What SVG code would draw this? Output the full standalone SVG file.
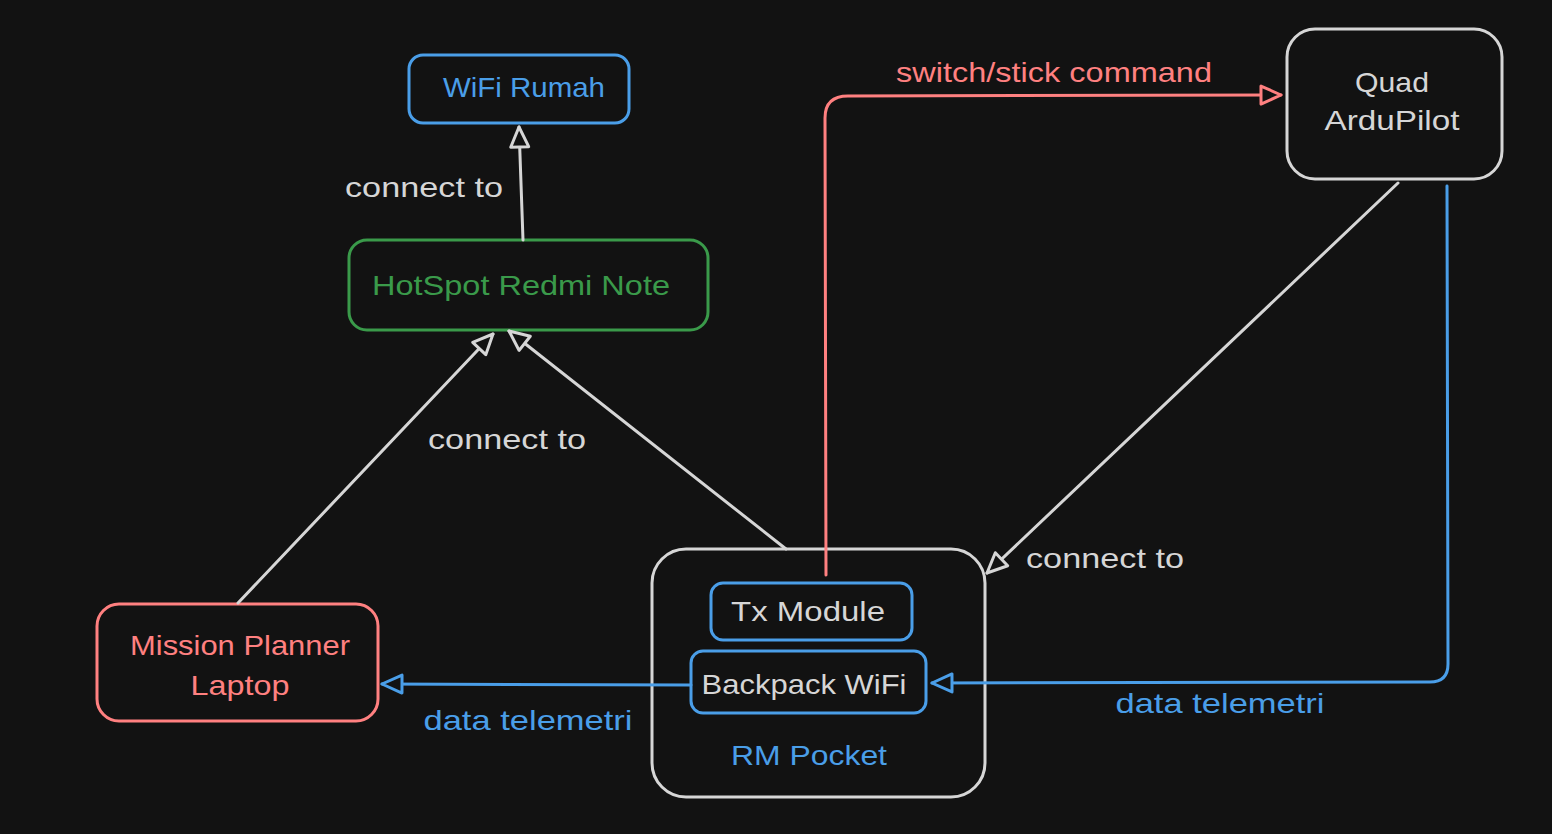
<svg xmlns="http://www.w3.org/2000/svg" width="1552" height="834" viewBox="0 0 1552 834">
<defs>
<style>
.box{fill:#121212;stroke-width:3;stroke-linejoin:round}
.g{stroke:#d6d6d6}.b{stroke:#4a9ee8}.r{stroke:#ff8080}.gr{stroke:#3a9a4a}
.line{fill:none;stroke-width:3;stroke-linecap:round;stroke-linejoin:round}
text{font-family:"Liberation Sans",Arial,sans-serif;font-size:28px;text-anchor:middle;dominant-baseline:central}
.tg{fill:#d6d6d6}.tb{fill:#4a9ee8}.tr{fill:#ff8080}.tgr{fill:#3a9a4a}
</style>
<marker id="ag" viewBox="0 0 26 26" refX="23" refY="13" markerWidth="26" markerHeight="26" markerUnits="userSpaceOnUse" orient="auto">
<path d="M3,4 L23,13 L3,22 Z" fill="#121212" stroke="#d6d6d6" stroke-width="3" stroke-linejoin="round"/>
</marker>
<marker id="ab" viewBox="0 0 26 26" refX="23" refY="13" markerWidth="26" markerHeight="26" markerUnits="userSpaceOnUse" orient="auto">
<path d="M3,4 L23,13 L3,22 Z" fill="#121212" stroke="#4a9ee8" stroke-width="3" stroke-linejoin="round"/>
</marker>
<marker id="ar" viewBox="0 0 26 26" refX="23" refY="13" markerWidth="26" markerHeight="26" markerUnits="userSpaceOnUse" orient="auto">
<path d="M3,4 L23,13 L3,22 Z" fill="#121212" stroke="#ff8080" stroke-width="3" stroke-linejoin="round"/>
</marker>
</defs>
<rect width="1552" height="834" fill="#121212"/>

<g id="wifi-rumah">
<rect class="box b" x="409" y="55" width="220" height="68" rx="14"/>
<text class="tb" x="524" y="87" textLength="162" lengthAdjust="spacingAndGlyphs">WiFi Rumah</text>
</g>

<g id="hotspot">
<rect class="box gr" x="349" y="240" width="359" height="90" rx="18"/>
<text class="tgr" x="521" y="285" textLength="298" lengthAdjust="spacingAndGlyphs">HotSpot Redmi Note</text>
</g>

<g id="mission-planner">
<rect class="box r" x="97" y="604" width="281" height="117" rx="22"/>
<text class="tr" x="240" y="645" textLength="220" lengthAdjust="spacingAndGlyphs">Mission Planner</text>
<text class="tr" x="240" y="685" textLength="99" lengthAdjust="spacingAndGlyphs">Laptop</text>
</g>

<g id="rm-pocket">
<rect class="box g" x="652" y="549" width="333" height="248" rx="34"/>
<text class="tb" x="809" y="755" textLength="156" lengthAdjust="spacingAndGlyphs">RM Pocket</text>
</g>

<g id="tx-module">
<rect class="box b" x="711" y="583" width="201" height="57" rx="12"/>
<text class="tg" x="808" y="611" textLength="154" lengthAdjust="spacingAndGlyphs">Tx Module</text>
</g>

<g id="backpack-wifi">
<rect class="box b" x="691" y="651" width="235" height="62" rx="12"/>
<text class="tg" x="804" y="684" textLength="205" lengthAdjust="spacingAndGlyphs">Backpack WiFi</text>
</g>

<g id="quad">
<rect class="box g" x="1287" y="29" width="215" height="150" rx="28"/>
<text class="tg" x="1392" y="82" textLength="74" lengthAdjust="spacingAndGlyphs">Quad</text>
<text class="tg" x="1392" y="120" textLength="135" lengthAdjust="spacingAndGlyphs">ArduPilot</text>
</g>

<g id="connectors">
<path class="line g" d="M523,240 L519,127" marker-end="url(#ag)"/>
<path class="line g" d="M238,603 L493,334" marker-end="url(#ag)"/>
<path class="line g" d="M786,549 L509,331" marker-end="url(#ag)"/>
<path class="line g" d="M1398,183 L987,573" marker-end="url(#ag)"/>
<path class="line b" d="M691,685 L382,684" marker-end="url(#ab)"/>
<path class="line b" d="M1447,186 L1448,664 Q1448,682 1430,682 L932,683" marker-end="url(#ab)"/>
<path class="line r" d="M826,575 L825,118 Q825,96 848,96 L1281,95" marker-end="url(#ar)"/>
<text class="tg" x="424" y="187" textLength="158" lengthAdjust="spacingAndGlyphs">connect to</text>
<text class="tg" x="507" y="439" textLength="158" lengthAdjust="spacingAndGlyphs">connect to</text>
<text class="tg" x="1105" y="558" textLength="158" lengthAdjust="spacingAndGlyphs">connect to</text>
<text class="tb" x="528" y="720" textLength="209" lengthAdjust="spacingAndGlyphs">data telemetri</text>
<text class="tb" x="1220" y="703" textLength="209" lengthAdjust="spacingAndGlyphs">data telemetri</text>
<text class="tr" x="1054" y="72" textLength="316" lengthAdjust="spacingAndGlyphs">switch/stick command</text>
</g>
</svg>
